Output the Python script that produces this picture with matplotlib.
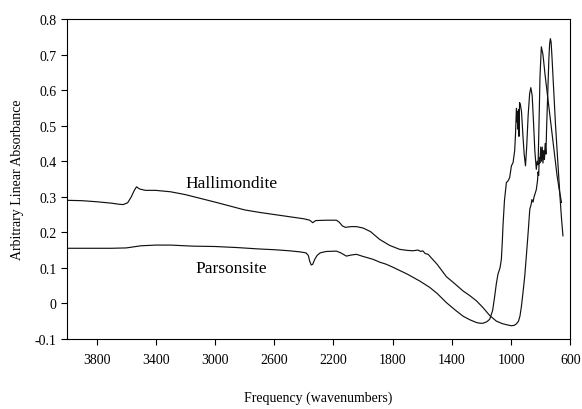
import matplotlib
matplotlib.use("Agg")
import matplotlib.pyplot as plt
from matplotlib.ticker import FuncFormatter

plt.rcParams['font.family'] = ['Liberation Serif', 'DejaVu Serif']
plt.rcParams['axes.unicode_minus'] = False

# Hallimondite
hal_wn = [4000, 3900, 3800, 3700, 3650, 3620, 3590, 3565, 3545, 3530, 3510, 3470,
          3400, 3300, 3200, 3000, 2900, 2800, 2700, 2600, 2500, 2400, 2360, 2340,
          2320, 2250, 2180, 2160, 2140, 2120, 2080, 2045, 2000, 1950, 1888, 1820,
          1753, 1700, 1663, 1630, 1610, 1597, 1580, 1560, 1550, 1500, 1437, 1380,
          1325, 1280, 1234, 1190, 1145, 1100, 1060, 1032, 1000, 980, 965, 950, 940,
          931, 920, 908, 896, 885, 874, 865, 860, 852, 845, 841, 830, 822, 818, 814,
          810, 806, 800, 795, 790, 785, 780, 775, 770, 765, 760, 752, 745, 740, 735,
          730, 725, 715, 700, 685, 670, 660, 650]
hal_ab = [0.290, 0.289, 0.286, 0.282, 0.279, 0.278, 0.283, 0.300, 0.318, 0.328, 0.322, 0.318,
          0.318, 0.314, 0.306, 0.285, 0.274, 0.263, 0.256, 0.250, 0.244, 0.238, 0.234, 0.227,
          0.233, 0.234, 0.234, 0.228, 0.218, 0.214, 0.216, 0.216, 0.212, 0.202, 0.180, 0.163,
          0.152, 0.149, 0.148, 0.150, 0.146, 0.148, 0.140, 0.138, 0.133, 0.110, 0.075, 0.055,
          0.035, 0.022, 0.007, -0.012, -0.034, -0.050, -0.057, -0.060, -0.063, -0.062, -0.058, -0.050, -0.035,
          -0.010, 0.030, 0.077, 0.140, 0.200, 0.265, 0.278, 0.292, 0.285, 0.300, 0.305, 0.320, 0.345, 0.370, 0.360,
          0.410, 0.395, 0.440, 0.400, 0.440, 0.395, 0.430, 0.405, 0.450, 0.420, 0.500, 0.600, 0.690, 0.730, 0.745,
          0.735, 0.700, 0.620, 0.500, 0.400, 0.300, 0.240, 0.190]

# Parsonsite
par_wn = [4000, 3900, 3800, 3700, 3600, 3500, 3400, 3300, 3150, 3000, 2850, 2700,
          2600, 2500, 2428, 2385, 2370, 2360, 2350, 2340, 2325, 2310, 2290, 2250,
          2180, 2150, 2113, 2080, 2045, 2000, 1933, 1888, 1843, 1800, 1750, 1700,
          1618, 1550, 1500, 1437, 1380, 1325, 1280, 1234, 1210, 1190, 1165, 1145,
          1125, 1111, 1100, 1089, 1075, 1066, 1060, 1055, 1045, 1032, 1020, 1010,
          998, 987, 976, 970, 966, 964, 960, 957, 954, 950, 947, 943, 938, 930, 920,
          912, 903, 895, 885, 875, 867, 858, 850, 840, 830, 824, 818, 812, 805, 796,
          785, 770, 750, 730, 710, 690, 675, 660]
par_ab = [0.155, 0.155, 0.155, 0.155, 0.156, 0.162, 0.164, 0.164, 0.161, 0.160, 0.157, 0.153,
          0.151, 0.148, 0.145, 0.142, 0.135, 0.118, 0.108, 0.110, 0.125, 0.135, 0.142, 0.146,
          0.147, 0.142, 0.133, 0.136, 0.138, 0.132, 0.124, 0.116, 0.110, 0.102, 0.092, 0.082,
          0.063, 0.045, 0.028, 0.002, -0.018, -0.036, -0.046, -0.054, -0.056, -0.056, -0.052, -0.045,
          -0.020, 0.020, 0.055, 0.082, 0.100, 0.124, 0.170, 0.218, 0.290, 0.340, 0.345, 0.354,
          0.387, 0.396, 0.430, 0.480, 0.530, 0.549, 0.510, 0.540, 0.490, 0.545, 0.470, 0.565, 0.560, 0.540, 0.470,
          0.420, 0.387, 0.440, 0.530, 0.590, 0.607, 0.585, 0.520, 0.430, 0.377, 0.400, 0.390, 0.500, 0.640, 0.722,
          0.700, 0.640, 0.570, 0.500, 0.430, 0.360, 0.320, 0.284]

labels = ["Hallimondite", "Parsonsite"]
x_ticks = [3800, 3400, 3000, 2600, 2200, 1800, 1400, 1000, 600]

fig = plt.figure(figsize=(5.82, 4.10), dpi=100)
ax = fig.add_axes([0.115, 0.171, 0.865, 0.780])

ax.plot(hal_wn, hal_ab, color='#111111', lw=0.85)
ax.plot(par_wn, par_ab, color='#111111', lw=0.85)

ax.text(2888, 0.34, labels[0], fontsize=12.5, ha='center', va='center')
ax.text(2888, 0.10, labels[1], fontsize=12.5, ha='center', va='center')

ax.set_xlim(4000, 600)
ax.set_ylim(-0.1, 0.8)
ax.set_xticks(x_ticks)
ax.set_yticks([-0.1, 0, 0.1, 0.2, 0.3, 0.4, 0.5, 0.6, 0.7, 0.8])
ax.yaxis.set_major_formatter(FuncFormatter(lambda v, p: '0' if abs(v) < 1e-9 else '%.1f' % v))
ax.tick_params(direction='out', length=4, width=0.8, labelsize=10, colors='black')
ax.tick_params(axis='x', pad=6)
for s in ax.spines.values():
    s.set_linewidth(0.8)

ax.set_xlabel("Frequency (wavenumbers)", fontsize=10, labelpad=18)
ax.set_ylabel("Arbitrary Linear Absorbance", fontsize=10, labelpad=8)

fig.savefig("out.png", dpi=100)
